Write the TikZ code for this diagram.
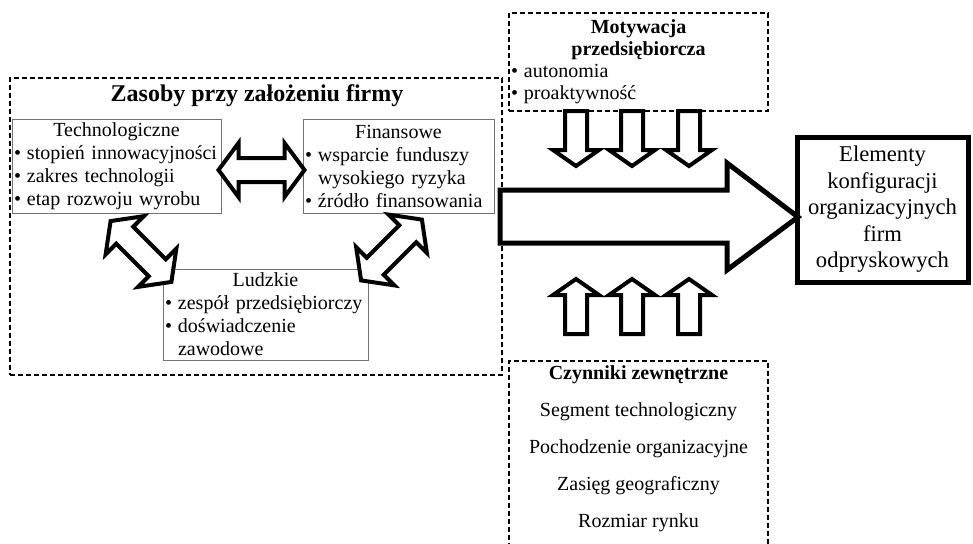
\documentclass[tikz,border=0pt]{standalone}
\usepackage{fontspec}
\setmainfont{Liberation Serif}

\newcommand{\bul}[1]{\mbox{\makebox[6.5pt][l]{\textbullet}#1}}
\newcommand{\cont}[1]{\mbox{\hspace*{6.5pt}#1}}

\tikzset{
  resbox/.style={draw=black!55, line width=0.5pt, inner xsep=1pt, inner ysep=0pt,
    align=left, font=\fontsize{10}{11.5}\selectfont},
  dashbox/.style={draw, line width=0.7pt, dash pattern=on 2.5pt off 1.5pt, inner xsep=1pt, inner ysep=0pt},
  blockarrow/.style={draw, fill=white, line width=2pt, line join=miter},
  dblarrow/.pic={
    \draw[blockarrow] (-43,0) -- (-23,-27) -- (-23,-12) -- (23,-12) -- (23,-27)
      -- (43,0) -- (23,27) -- (23,12) -- (-23,12) -- (-23,27) -- cycle;
  },
  downarrow/.pic={
    \draw[blockarrow] (-11,0) -- (11,0) -- (11,39) -- (23,39) -- (0,55)
      -- (-23,39) -- (-11,39) -- cycle;
  }
}

\begin{document}
\begin{tikzpicture}[x=0.5pt, y=-0.5pt]
    \useasboundingbox (0,0) rectangle (973,543);

    % Resources at founding
    \node[dashbox, minimum width=246pt, minimum height=148.5pt] (zasoby) at (256,226.5) {};
    \node[font=\fontsize{12}{14}\selectfont\bfseries] (zasobyT) at (257,96) {Zasoby przy założeniu firmy};

    \node[resbox, text width=102.5pt, minimum height=47pt] (tech) at (116.5,166)
      {\makebox[\linewidth]{Technologiczne}\\
       \bul{stopień innowacyjności}\\
       \bul{zakres technologii}\\
       \bul{etap rozwoju wyrobu}};
    \node[resbox, text width=93.5pt, minimum height=47pt] (fin) at (398.5,166)
      {\makebox[\linewidth]{Finansowe}\\
       \bul{wsparcie funduszy}\\
       \cont{wysokiego ryzyka}\\
       \bul{źródło finansowania}};
    \node[resbox, text width=100.5pt, minimum height=45.5pt] (ludz) at (265.5,314.5)
      {\makebox[\linewidth]{Ludzkie}\\
       \bul{zespół przedsiębiorczy}\\
       \bul{doświadczenie}\\
       \cont{zawodowe}};

    % Double arrows between the resources
    \pic at (261.5,170) {dblarrow};
    \pic[rotate=-45] at (141,251.5) {dblarrow};
    \pic[rotate=45] at (391.5,250) {dblarrow};

    % Motivation and external factors
    \node[dashbox, text width=127.5pt, minimum height=49pt, align=left,
          font=\fontsize{10}{11}\selectfont] (motyw) at (638.5,62)
      {\makebox[\linewidth]{\bfseries Motywacja}\\
       \makebox[\linewidth]{\bfseries przedsiębiorcza}\\
       \bul{autonomia}\\
       \bul{proaktywność}};

    \node[dashbox, minimum width=129.5pt, minimum height=94pt] (czyn) at (638.5,455) {};
    \node[align=center, font=\fontsize{10}{18.5}\selectfont] (czynT) at (638.5,448.5)
      {\textbf{Czynniki zewnętrzne}\\
       Segment technologiczny\\
       Pochodzenie organizacyjne\\
       Zasięg geograficzny\\
       Rozmiar rynku};

    \foreach \x in {576,632,689} {
      \pic at (\x,111) {downarrow};
      \pic[rotate=180] at (\x,334) {downarrow};
    }

    % Main arrow
    \draw[blockarrow, line width=2.5pt] (500,190) -- (727,190) -- (727,163) -- (798,217)
      -- (727,270) -- (727,243) -- (500,243) -- cycle;

    \node[draw, line width=2.5pt, minimum width=85.5pt, minimum height=72.5pt, inner sep=0pt,
          align=center, font=\fontsize{11.3}{13.25}\selectfont] (elem) at (882.5,209.5)
      {Elementy\\konfiguracji\\organizacyjnych\\firm\\odpryskowych};

\end{tikzpicture}
\end{document}
